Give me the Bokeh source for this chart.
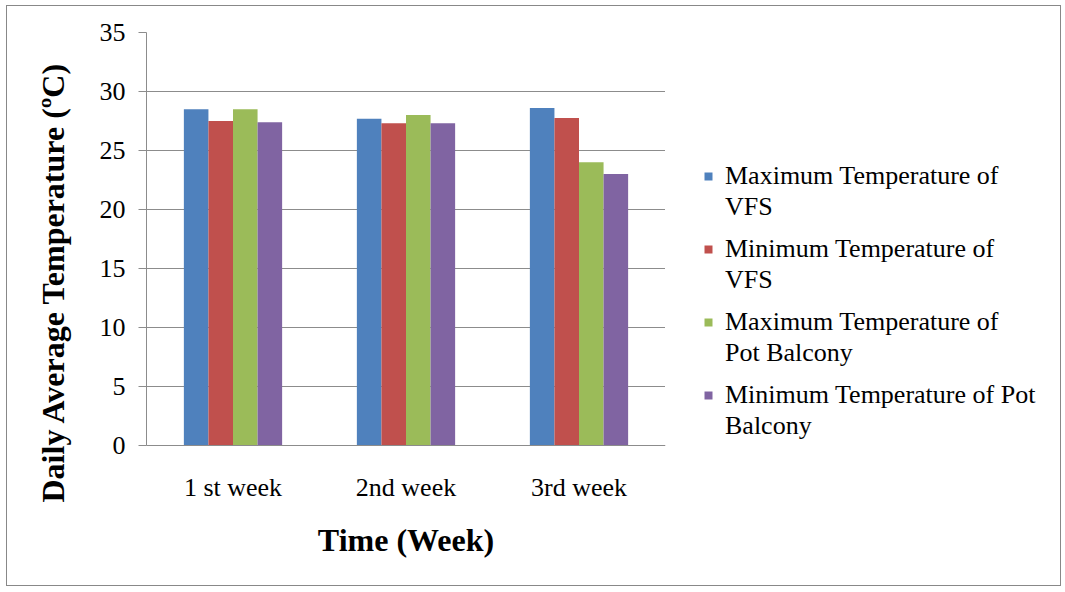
from bokeh.plotting import figure
from bokeh.layouts import row
from bokeh.models import (FactorRange, Range1d, SingleIntervalTicker, Legend, LegendItem,
                          Title, ColumnDataSource)
from bokeh.transform import dodge
from bokeh.embed import file_html
from bokeh.resources import INLINE

weeks = ["1 st week", "2nd week", "3rd week"]
series_first_line = [
    "Maximum Temperature of",
    "Minimum Temperature of",
    "Maximum Temperature of",
    "Minimum Temperature of Pot",
]
series_second_line = ["VFS", "VFS", "Pot Balcony", "Balcony"]
max_vfs = [28.5, 27.7, 28.6]
min_vfs = [27.5, 27.3, 27.75]
max_pot = [28.5, 28.0, 24.0]
min_pot = [27.4, 27.3, 23.0]
colors = ["#4F81BD", "#C0504D", "#9BBB59", "#8064A2"]

FONT = "Liberation Serif"
GRID = "#8c8c8c"
H = 579

src = ColumnDataSource(dict(week=weeks, s0=max_vfs, s1=min_vfs, s2=max_pot, s3=min_pot))

p = figure(
    x_range=FactorRange(factors=weeks, range_padding=0),
    y_range=Range1d(0, 35),
    width=658, height=H,
    min_border_left=139, min_border_right=0, min_border_top=26, min_border_bottom=140,
    output_backend="svg", toolbar_location=None,
)
p.outline_line_color = None
p.background_fill_color = "white"
p.border_fill_color = "white"

bw = 0.142
for i, key in enumerate(["s0", "s1", "s2", "s3"]):
    off = (i - 1.5) * bw
    p.vbar(x=dodge("week", off, range=p.x_range), top=key, width=bw, source=src,
           fill_color=colors[i], line_color=None)

# axes
p.yaxis.ticker = SingleIntervalTicker(interval=5)
p.yaxis.minor_tick_line_color = None
p.yaxis.major_tick_out = 8
p.yaxis.major_tick_in = 0
p.yaxis.major_label_standoff = 13
p.yaxis.axis_line_color = GRID
p.yaxis.major_tick_line_color = GRID
p.yaxis.major_label_text_font = FONT
p.yaxis.major_label_text_font_size = "26px"
p.yaxis.major_label_text_color = "black"

p.xaxis.major_tick_out = 0
p.xaxis.major_tick_in = 0
p.xaxis.axis_line_color = GRID
p.xaxis.major_label_standoff = 27
p.xaxis.major_label_text_font = FONT
p.xaxis.major_label_text_font_size = "26px"
p.xaxis.major_label_text_color = "black"
p.xaxis.axis_label = "Time (Week)"
p.xaxis.axis_label_text_font = FONT
p.xaxis.axis_label_text_font_size = "32px"
p.xaxis.axis_label_text_font_style = "bold"
p.xaxis.axis_label_text_color = "black"
p.xaxis.axis_label_standoff = 17

p.xgrid.grid_line_color = None
p.ygrid.grid_line_color = GRID
p.ygrid.grid_line_width = 1

ytitle = Title(text="Daily Average Temperature (ºC)", align="left", offset=-57,
               vertical_align="middle",
               text_font=FONT, text_font_size="32px", text_font_style="bold",
               text_color="black", standoff=50)
p.add_layout(ytitle, "left")

# legend panel
p2 = figure(width=1053 - 658, height=H, x_range=Range1d(0, 1), y_range=Range1d(0, 1),
            min_border=0, output_backend="svg", toolbar_location=None)
p2.axis.visible = False
p2.grid.grid_line_color = None
p2.outline_line_color = None
p2.background_fill_color = "white"
p2.border_fill_color = "white"

# legend swatch proxies (kept outside the visible range of the legend panel)
proxies = [p2.vbar(x=[-5], top=[-5], width=1, fill_color=c, line_color=None) for c in colors]
blank = p2.vbar(x=[-5], top=[-5], width=1, fill_alpha=0, line_alpha=0)

common = dict(padding=0, margin=0, border_line_color=None, background_fill_alpha=0,
              glyph_width=10, glyph_height=10, label_standoff=12, spacing=43,
              label_text_font=FONT, label_text_font_size="26px", label_text_color="black",
              label_text_line_height=1.2)
legA = Legend(items=[LegendItem(label=series_first_line[i], renderers=[proxies[i]]) for i in range(4)],
              location=(38, 35), **common)
legB = Legend(items=[LegendItem(label=series_second_line[i], renderers=[blank]) for i in range(4)],
              location=(38, 4), **common)
p2.add_layout(legA, "center")
p2.add_layout(legB, "center")

layout = row(p, p2, spacing=0)
layout.styles = {"margin-left": "7px", "margin-top": "6px", "outline": "1px solid #888888"}

open("out.html", "w").write(file_html(layout, INLINE))
